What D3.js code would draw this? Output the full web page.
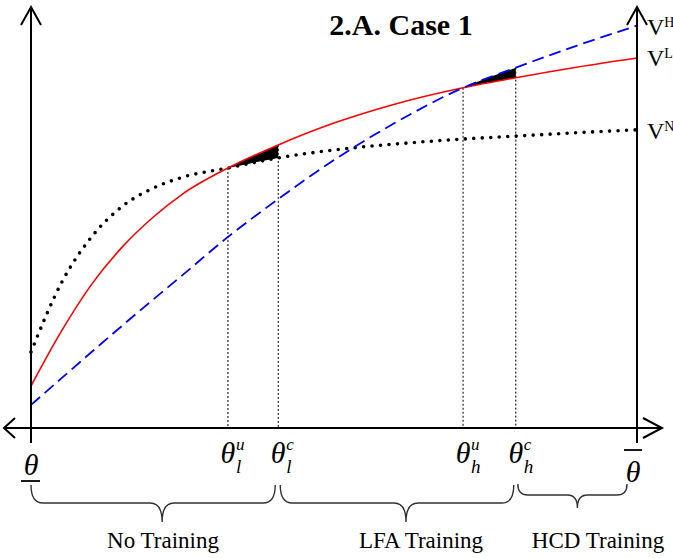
<!DOCTYPE html>
<html>
<head>
<meta charset="utf-8">
<script src="https://cdn.jsdelivr.net/npm/d3@7"></script>
<style>
  body { margin: 0; background: #fff; }
  svg { display: block; font-family: "Liberation Serif", "Times New Roman", serif; }
</style>
</head>
<body>
<svg id="chart" width="673" height="558"></svg>
<script>
// ability grid (theta) and value functions
const theta = [0, 0.05, 0.1, 0.15, 0.2, 0.25, 0.325, 0.408, 0.5, 0.6, 0.713, 0.8, 0.9, 1];
const vHigh = [0.055, 0.118, 0.181, 0.243, 0.304, 0.364, 0.455, 0.545, 0.638, 0.726, 0.810, 0.858, 0.910, 0.958];
const vLow  = [0.100, 0.230, 0.342, 0.430, 0.500, 0.557, 0.619, 0.674, 0.726, 0.771, 0.810, 0.834, 0.859, 0.881];
const vNone = [0.181, 0.345, 0.455, 0.527, 0.570, 0.597, 0.619, 0.643, 0.662, 0.676, 0.688, 0.695, 0.703, 0.710];

// cutoffs
const cutLu = 0.325, cutLc = 0.408, cutHu = 0.713, cutHc = 0.8;
const regionLabels = ["No Training", "LFA Training", "HCD Training"];
const regionBounds = [[0, cutLc], [cutLc, cutHc], [cutHc, 1]];

const svg = d3.select("#chart");
const x = d3.scaleLinear().domain([0, 1]).range([31, 637]);
const y = d3.scaleLinear().domain([0, 1]).range([428, 8]);

const pts = (vals) => theta.map((t, i) => [t, vals[i]]);
const line = d3.line().x(d => x(d[0])).y(d => y(d[1])).curve(d3.curveMonotoneX);

// shaded gaps between the curves
const defs = svg.append("defs");
function gap(id, a, b, lo, hi) {
  defs.append("clipPath").attr("id", id)
    .append("rect")
    .attr("x", x(lo)).attr("y", 0)
    .attr("width", x(hi) - x(lo)).attr("height", 558);
  const area = d3.area()
    .x((d, i) => x(theta[i]))
    .y0((d, i) => y(a[i]))
    .y1((d, i) => y(b[i]))
    .curve(d3.curveMonotoneX);
  svg.append("path")
    .attr("d", area(theta))
    .attr("clip-path", `url(#${id})`)
    .attr("fill", "#000");
}
gap("gapL", vLow, vNone, cutLu, cutLc);
gap("gapH", vHigh, vLow, cutHu, cutHc);

// vertical guide lines, from the curve at each cutoff down to the axis
const guides = [[cutLu, vLow], [cutLc, vLow], [cutHu, vHigh], [cutHc, vHigh]];
guides.forEach(([t, vals]) => {
  const i = theta.indexOf(t);
  svg.append("line")
    .attr("x1", x(t)).attr("x2", x(t))
    .attr("y1", y(vals[i])).attr("y2", y(0))
    .attr("stroke", "#000").attr("stroke-width", 1)
    .attr("stroke-dasharray", "2,2");
});

// curves
svg.append("path").attr("d", line(pts(vNone)))
  .attr("fill", "none").attr("stroke", "#000")
  .attr("stroke-width", 3.6).attr("stroke-linecap", "round")
  .attr("stroke-dasharray", "0,8.5");
svg.append("path").attr("d", line(pts(vLow)))
  .attr("fill", "none").attr("stroke", "#ff0000").attr("stroke-width", 1.6);
svg.append("path").attr("d", line(pts(vHigh)))
  .attr("fill", "none").attr("stroke", "#0000ff").attr("stroke-width", 1.8)
  .attr("stroke-dasharray", "12,6");

// axes
const ax = svg.append("g").attr("stroke", "#000").attr("stroke-width", 2).attr("fill", "none");
ax.append("line").attr("x1", 4).attr("x2", 662).attr("y1", y(0)).attr("y2", y(0));
[x(0), x(1)].forEach(px => {
  ax.append("line").attr("x1", px).attr("x2", px).attr("y1", 7).attr("y2", 443);
  ax.append("path").attr("d", `M${px - 10},25 L${px},7 L${px + 10},25`);
});
ax.append("path").attr("d", `M15,${y(0) - 10} L4,${y(0)} L15,${y(0) + 10}`);
ax.append("path").attr("d", `M643,${y(0) - 10} L662,${y(0)} L643,${y(0) + 10}`);

// title
svg.append("text").attr("x", 401).attr("y", 35)
  .attr("text-anchor", "middle").attr("font-weight", "bold").attr("font-size", 30)
  .text("2.A. Case 1");

// curve labels on the right
[["H", vHigh], ["L", vLow], ["N", vNone]].forEach(([s, vals], k) => {
  const by = [35, 66, 139][k];
  const t = svg.append("text").attr("x", 647).attr("y", by).attr("font-size", 24);
  t.append("tspan").text("V");
  t.append("tspan").attr("font-size", 14).attr("dy", -8).text(s);
});

// theta labels on the x axis
const thetaLabels = [
  { t: cutLu, sub: "l", sup: "u" },
  { t: cutLc, sub: "l", sup: "c" },
  { t: cutHu, sub: "h", sup: "u" },
  { t: cutHc, sub: "h", sup: "c" }
];
thetaLabels.forEach(d => {
  const g = svg.append("g").attr("font-style", "italic");
  g.append("text").attr("x", x(d.t)).attr("y", 463)
    .attr("text-anchor", "middle").attr("font-size", 30).text("θ");
  g.append("text").attr("x", x(d.t) + 8).attr("y", 473).attr("font-size", 19).text(d.sub);
  g.append("text").attr("x", x(d.t) + 8).attr("y", 450).attr("font-size", 17).text(d.sup);
});
// lower / upper bound
svg.append("text").attr("x", x(0)).attr("y", 475).attr("text-anchor", "middle")
  .attr("font-style", "italic").attr("font-size", 30).text("θ");
svg.append("line").attr("x1", x(0) - 10).attr("x2", x(0) + 9).attr("y1", 481).attr("y2", 481)
  .attr("stroke", "#000").attr("stroke-width", 1.8);
svg.append("text").attr("x", x(1) - 4).attr("y", 482).attr("text-anchor", "middle")
  .attr("font-style", "italic").attr("font-size", 30).text("θ");
svg.append("line").attr("x1", x(1) - 13).attr("x2", x(1) + 5).attr("y1", 450).attr("y2", 450)
  .attr("stroke", "#000").attr("stroke-width", 1.8);

// braces under the axis
function brace(xa, xb, xt, y0, y1, y2, r) {
  return `M${xa},${y0} Q${xa},${y1} ${xa + r},${y1} L${xt - r},${y1} ` +
    `Q${xt},${y1} ${xt},${y2} Q${xt},${y1} ${xt + r},${y1} ` +
    `L${xb - r},${y1} Q${xb},${y1} ${xb},${y0}`;
}
const braceShape = [
  { inL: 0, inR: 3, tip: 9, y0: 485, y1: 503, y2: 522, r: 12, lx: 163 },
  { inL: 2, inR: 2, tip: 9, y0: 485, y1: 503, y2: 522, r: 12, lx: 421 },
  { inL: 2, inR: 10, tip: 5, y0: 484, y1: 495, y2: 508, r: 10, lx: 598 }
];
regionBounds.forEach(([a, b], i) => {
  const s = braceShape[i];
  const xa = x(a) + s.inL, xb = x(b) - s.inR;
  svg.append("path")
    .attr("d", brace(xa, xb, (xa + xb) / 2 + s.tip, s.y0, s.y1, s.y2, s.r))
    .attr("fill", "none").attr("stroke", "#333").attr("stroke-width", 1.4);
  svg.append("text").attr("x", s.lx).attr("y", 548)
    .attr("text-anchor", "middle").attr("font-size", 23)
    .text(regionLabels[i]);
});
</script>
</body>
</html>
